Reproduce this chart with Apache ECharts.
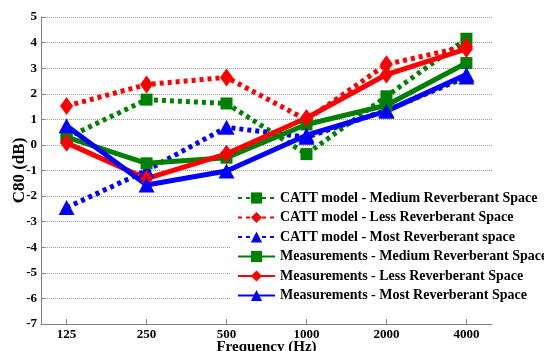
<!DOCTYPE html>
<html>
<head>
<meta charset="utf-8">
<script src="https://cdn.jsdelivr.net/npm/echarts@6/dist/echarts.min.js"></script>
<style>
  html, body { margin: 0; padding: 0; background: #fff; }
  #chart { width: 544px; height: 351px; }
</style>
</head>
<body>
<div id="chart"></div>
<script>
// Octave-band centre frequencies (tick labels)
const freqLabels = ['125', '250', '500', '1000', '2000', '4000'];
const yTicks = [-7, -6, -5, -4, -3, -2, -1, 0, 1, 2, 3, 4, 5];

// C80 values in dB per octave band
const cattMedium = [0.28, 1.77, 1.62, -0.36, 1.9, 4.15];
const cattLess   = [1.52, 2.36, 2.64, 0.98, 3.15, 3.85];
const cattMost   = [-2.45, -1.0, 0.69, 0.3, 1.35, 2.65];
const measMedium = [0.3, -0.72, -0.5, 0.8, 1.55, 3.2];
const measLess   = [0.08, -1.32, -0.35, 1.05, 2.75, 3.75];
const measMost   = [0.75, -1.57, -1.02, 0.38, 1.32, 2.75];

const GREEN = '#008000', RED = '#ff0000', BLUE = '#0000ff';
const FONT = '"Liberation Serif", "Times New Roman", serif';

const toPoints = arr => arr.map((v, i) => [i, v]);
const bandIdx = freqLabels.map((_, i) => i);

function makeSeries(name, data, color, dotted, symbol, size) {
  return {
    name: name,
    type: 'line',
    data: toPoints(data),
    symbol: symbol,
    symbolSize: size,
    showAllSymbol: true,
    lineStyle: { color: color, width: 5, type: dotted ? [4, 4] : 'solid' },
    itemStyle: { color: color, borderWidth: 0 },
    emphasis: { disabled: true },
    animation: false
  };
}

const chart = echarts.init(document.getElementById('chart'), null, { renderer: 'canvas' });
chart.setOption({
  animation: false,
  grid: { left: 41, right: 52, top: 17, bottom: 27, containLabel: false, outerBoundsMode: 'none' },
  legend: {
    orient: 'vertical',
    left: 230,
    top: 184,
    padding: [7, 4, 7, 7],
    backgroundColor: '#ffffff',
    itemWidth: 37,
    itemHeight: 14,
    itemGap: 5.5,
    textStyle: { fontFamily: FONT, fontWeight: 'bold', fontSize: 14, color: '#000' },
    data: [
      'CATT model - Medium Reverberant Space',
      'CATT model - Less Reverberant Space',
      'CATT model - Most Reverberant space',
      'Measurements - Medium Reverberant Space',
      'Measurements - Less Reverberant Space',
      'Measurements - Most Reverberant Space'
    ]
  },
  xAxis: {
    type: 'value',
    min: -0.32,
    max: 5.32,
    name: 'Frequency (Hz)',
    nameLocation: 'middle',
    nameGap: 16,
    nameMoveOverlap: false,
    nameTextStyle: { fontFamily: FONT, fontWeight: 'bold', fontSize: 15, color: '#000' },
    axisLine: { show: true, onZero: false, lineStyle: { color: '#808080', width: 1 } },
    axisTick: { show: true, inside: true, length: 5, customValues: bandIdx, lineStyle: { color: '#808080' } },
    axisLabel: {
      customValues: bandIdx,
      formatter: v => freqLabels[Math.round(v)],
      fontFamily: FONT, fontWeight: 'bold', fontSize: 13, color: '#000', margin: 4
    },
    splitLine: { show: false }
  },
  yAxis: {
    type: 'value',
    min: yTicks[0],
    max: yTicks[yTicks.length - 1],
    interval: 1,
    name: 'C80 (dB)',
    nameLocation: 'middle',
    nameGap: 13,
    nameMoveOverlap: false,
    nameTextStyle: { fontFamily: FONT, fontWeight: 'bold', fontSize: 17, color: '#000' },
    axisLine: { show: true, onZero: false, lineStyle: { color: '#808080', width: 1 } },
    axisTick: { show: true, inside: true, length: 4, lineStyle: { color: '#808080' } },
    axisLabel: { fontFamily: FONT, fontWeight: 'bold', fontSize: 13, color: '#000', margin: 4 },
    splitLine: { show: true, lineStyle: { color: '#9a9a9a', width: 1, type: [1, 1] } }
  },
  series: [
    makeSeries('CATT model - Medium Reverberant Space', cattMedium, GREEN, true, 'rect', 12),
    makeSeries('CATT model - Less Reverberant Space', cattLess, RED, true, 'diamond', [13, 18]),
    makeSeries('CATT model - Most Reverberant space', cattMost, BLUE, true, 'triangle', [16, 15]),
    makeSeries('Measurements - Medium Reverberant Space', measMedium, GREEN, false, 'rect', 12),
    makeSeries('Measurements - Less Reverberant Space', measLess, RED, false, 'diamond', [13, 18]),
    makeSeries('Measurements - Most Reverberant Space', measMost, BLUE, false, 'triangle', [16, 15])
  ]
});
</script>
</body>
</html>
